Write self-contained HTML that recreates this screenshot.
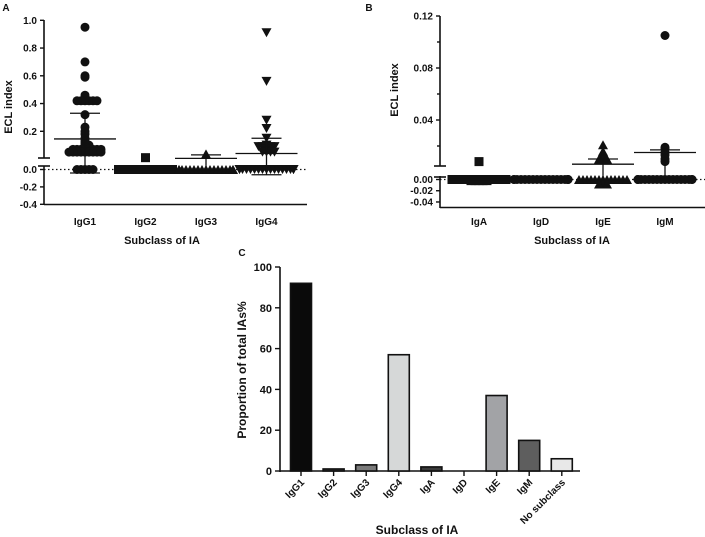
<!DOCTYPE html>
<html><head><meta charset="utf-8"><style>
body{margin:0;background:#fff}
svg{display:block}
text{font-family:"Liberation Sans",Arial,sans-serif;font-weight:bold;fill:#111}
</style></head><body>
<svg id="s" width="705" height="537" viewBox="0 0 705 537"></svg>
<script>
// Panel A data
const catsA=["IgG1","IgG2","IgG3","IgG4"];
const ptsA=[
 [0.95,0.70,0.60,0.59,0.46,0.42,0.42,0.42,0.42,0.42,0.42,0.32,0.23,0.20,0.18,0.15,0.13,0.12,0.11,0.10,0.10,0.09,0.08,0.07,0.07,0.07,0.07,0.07,0.07,0.07,0.07,0.05,0.05,0.05,0.05,0.05,0.05,0.05,0.05,0.05,0,0,0,0,0],
 [0.01,0,0,0,0,0,0,0,0,0,0,0,0,0,0,0,0,0],
 [0.037,0,0,0,0,0,0,0,0,0,0,0,0,0,0,0,0,0],
 [0.91,0.56,0.28,0.22,0.15,0.10,0.09,0.09,0.09,0.09,0.09,0.08,0.08,0.07,0.06,0.05,0.05,0.05,0.05,0,0,0,0,0,0,0,0,0,0,0,0,0,0,0,0,0,0]
];
const meanA=[0.145,0,0.005,0.04];
const sdHiA=[0.33,0,0.03,0.15];
const sdLoA=[-0.04,0,0,-0.06];
const shapesA=["circle","square","triangle","tri-down"];
const ticksAUp=[0.2,0.4,0.6,0.8,1.0];
const ticksALo=[0.0,-0.2,-0.4];
// Panel B data
const catsB=["IgA","IgD","IgE","IgM"];
const ptsB=[
 [0.008,0,0,0,0,0,0,0,0,0,0,0,0,0,0,0,0,-0.002,-0.002,-0.002,-0.002,-0.002],
 [0,0,0,0,0,0,0,0,0,0,0,0,0,0,0,0,0,0],
 [0.021,0.016,0.014,0.013,0.012,0.011,0.010,0.010,0.010,0,0,0,0,0,0,0,0,0,0,0,0,0,-0.008,-0.008,-0.008],
 [0.105,0.019,0.018,0.015,0.013,0.010,0.008,0,0,0,0,0,0,0,0,0,0,0,0,0,0,0,0,0]
];
const meanB=[0,0,0.006,0.015];
const sdHiB=[0,0,0.01,0.017];
const sdLoB=[0,0,0,0];
const shapesB=["square","circle","triangle","circle"];
const ticksBUp=[0.04,0.08,0.12];
const ticksBMinor=[0.02,0.06,0.10];
const ticksBLo=[0.00,-0.02,-0.04];
// Panel C data
const catsC=["IgG1","IgG2","IgG3","IgG4","IgA","IgD","IgE","IgM","No subclass"];
const valsC=[92,1,3,57,2,0,37,15,6];
const colorsC=["#0a0a0a","#333","#7a7a7a","#d6d8d8","#3a3a3a","#888","#a2a3a6","#5e5e5e","#e8e8e8"];
const ticksC=[0,20,40,60,80,100];

const svg=document.getElementById('s');
const NS="http://www.w3.org/2000/svg";
function mk(tag,attrs,parent){const e=document.createElementNS(NS,tag);for(const k in attrs)e.setAttribute(k,attrs[k]);(parent||svg).appendChild(e);return e;}
function line(x1,y1,x2,y2,w,p,dash){const a={x1,y1,x2,y2,stroke:"#111","stroke-width":w||1.6};if(dash)a["stroke-dasharray"]=dash;return mk('line',a,p);}
function txt(x,y,s,size,anchor,p,rot){const a={x,y,"font-size":size,"text-anchor":anchor||"middle"};if(rot)a.transform=rot;const t=mk('text',a,p);t.textContent=s;return t;}
function marker(shape,x,y,p){const r=4.5;let e;
 if(shape==="circle")e=mk('circle',{cx:x,cy:y,r:r,fill:"#111"},p);
 else if(shape==="square")e=mk('rect',{x:x-r,y:y-r,width:2*r,height:2*r,fill:"#111"},p);
 else if(shape==="triangle")e=mk('polygon',{points:`${x-r-0.5},${y+r} ${x+r+0.5},${y+r} ${x},${y-r}`,fill:"#111"},p);
 else e=mk('polygon',{points:`${x-r-0.5},${y-r} ${x+r+0.5},${y-r} ${x},${y+r}`,fill:"#111"},p);
 return e;}
function scatter(p,cats,pts,means,hi,lo,shapes,xOf,yOf){
 cats.forEach((c,i)=>{const cx=xOf(i);const g=mk('g',{},p);
  
  
  const counts={};
  pts[i].forEach(v=>{const k=v.toFixed(3);const n=counts[k]||0;counts[k]=n+1;
   const off=(n%2?1:-1)*Math.ceil(n/2)*4;
   const m=marker(shapes[i],cx+Math.max(-27,Math.min(27,off)),yOf(v),g);
   
   });
  const ml=line(cx-31,yOf(means[i]),cx+31,yOf(means[i]),1.3,g);
  
  
  if(hi[i]!==means[i]){line(cx-15,yOf(hi[i]),cx+15,yOf(hi[i]),1.3,g);line(cx,yOf(means[i]),cx,yOf(hi[i]),1.3,g);}
  if(lo[i]!==means[i]){line(cx-15,yOf(lo[i]),cx+15,yOf(lo[i]),1.3,g);line(cx,yOf(means[i]),cx,yOf(lo[i]),1.3,g);}
 });}

// ---------- Panel A ----------
const A=mk('g',{});
const yA=v=>v>=0.005?20.3+(1-v)*138.75:169.5-v*87;
const xA=i=>85+i*60.5;
txt(6,11,"A",10,"middle",A);
line(44,20,44,158,1.6,A);line(44,166,44,205,1.6,A);
line(38,158,50,158,1.6,A);line(38,166,50,166,1.6,A);
ticksAUp.forEach(v=>{line(40,yA(v),44,yA(v),1.4,A);txt(37,yA(v)+3.5,v.toFixed(1),10,"end",A);});
ticksALo.forEach(v=>{line(40,yA(v),44,yA(v),1.4,A);txt(37,yA(v)+3.5,v.toFixed(1),10,"end",A);});
line(44,169.5,307,169.5,1.2,A,"1.5,2.5");
line(44,204.5,307,204.5,1.6,A);
catsA.forEach((c,i)=>txt(xA(i),225,c,10,"middle",A));
txt(162,244,"Subclass of IA",11,"middle",A);
txt(0,0,"ECL index",11,"middle",A,"translate(12,107) rotate(-90)");
scatter(A,catsA,ptsA,meanA,sdHiA,sdLoA,shapesA,xA,yA);

// ---------- Panel B ----------
const B=mk('g',{});
const yB=v=>v>=0.004?16+(0.12-v)*1300:179.5-v*562;
const xB=i=>479+i*62;
txt(369,11,"B",10,"middle",B);
line(440,16,440,166,1.6,B);line(440,176,440,208,1.6,B);
line(434,166,446,166,1.6,B);line(434,177,446,177,1.6,B);
ticksBUp.forEach(v=>{line(436,yB(v),440,yB(v),1.4,B);txt(433,yB(v)+3.5,v.toFixed(2),10,"end",B);});
ticksBMinor.forEach(v=>line(437,yB(v),440,yB(v),1.4,B));
ticksBLo.forEach(v=>{line(436,yB(v),440,yB(v),1.4,B);txt(433,yB(v)+3.5,v.toFixed(2),10,"end",B);});
line(440,179.5,705,179.5,1.2,B,"1.5,2.5");
line(440,207.5,705,207.5,1.6,B);
catsB.forEach((c,i)=>txt(xB(i),225,c,10,"middle",B));
txt(572,244,"Subclass of IA",11,"middle",B);
txt(0,0,"ECL index",11,"middle",B,"translate(398,90) rotate(-90)");
scatter(B,catsB,ptsB,meanB,sdHiB,sdLoB,shapesB,xB,yB);

// ---------- Panel C ----------
const C=mk('g',{});
const yC=v=>471-v*2.04;
const xC=i=>301+i*32.6;
txt(242,256,"C",10,"middle",C);
line(280,267,280,472,1.6,C);
ticksC.forEach(v=>{line(275,yC(v),280,yC(v),1.4,C);txt(272,yC(v)+4,String(v),11,"end",C);});
line(280,471,580,471,1.6,C);
catsC.forEach((c,i)=>{const x=xC(i);
 line(x,471,x,476,1.4,C);
 if(valsC[i]>0){const r=mk('rect',{x:x-10.5,y:yC(valsC[i]),width:21,height:471-yC(valsC[i]),fill:colorsC[i],stroke:"#111","stroke-width":1.6},C);
 
 }
 txt(0,0,c,10,"end",C,`translate(${x+4},${483}) rotate(-45)`);
});
txt(417,534,"Subclass of IA",12,"middle",C);
txt(0,0,"Proportion of total IAs%",12,"middle",C,"translate(246,370) rotate(-90)");
</script>
</body></html>
